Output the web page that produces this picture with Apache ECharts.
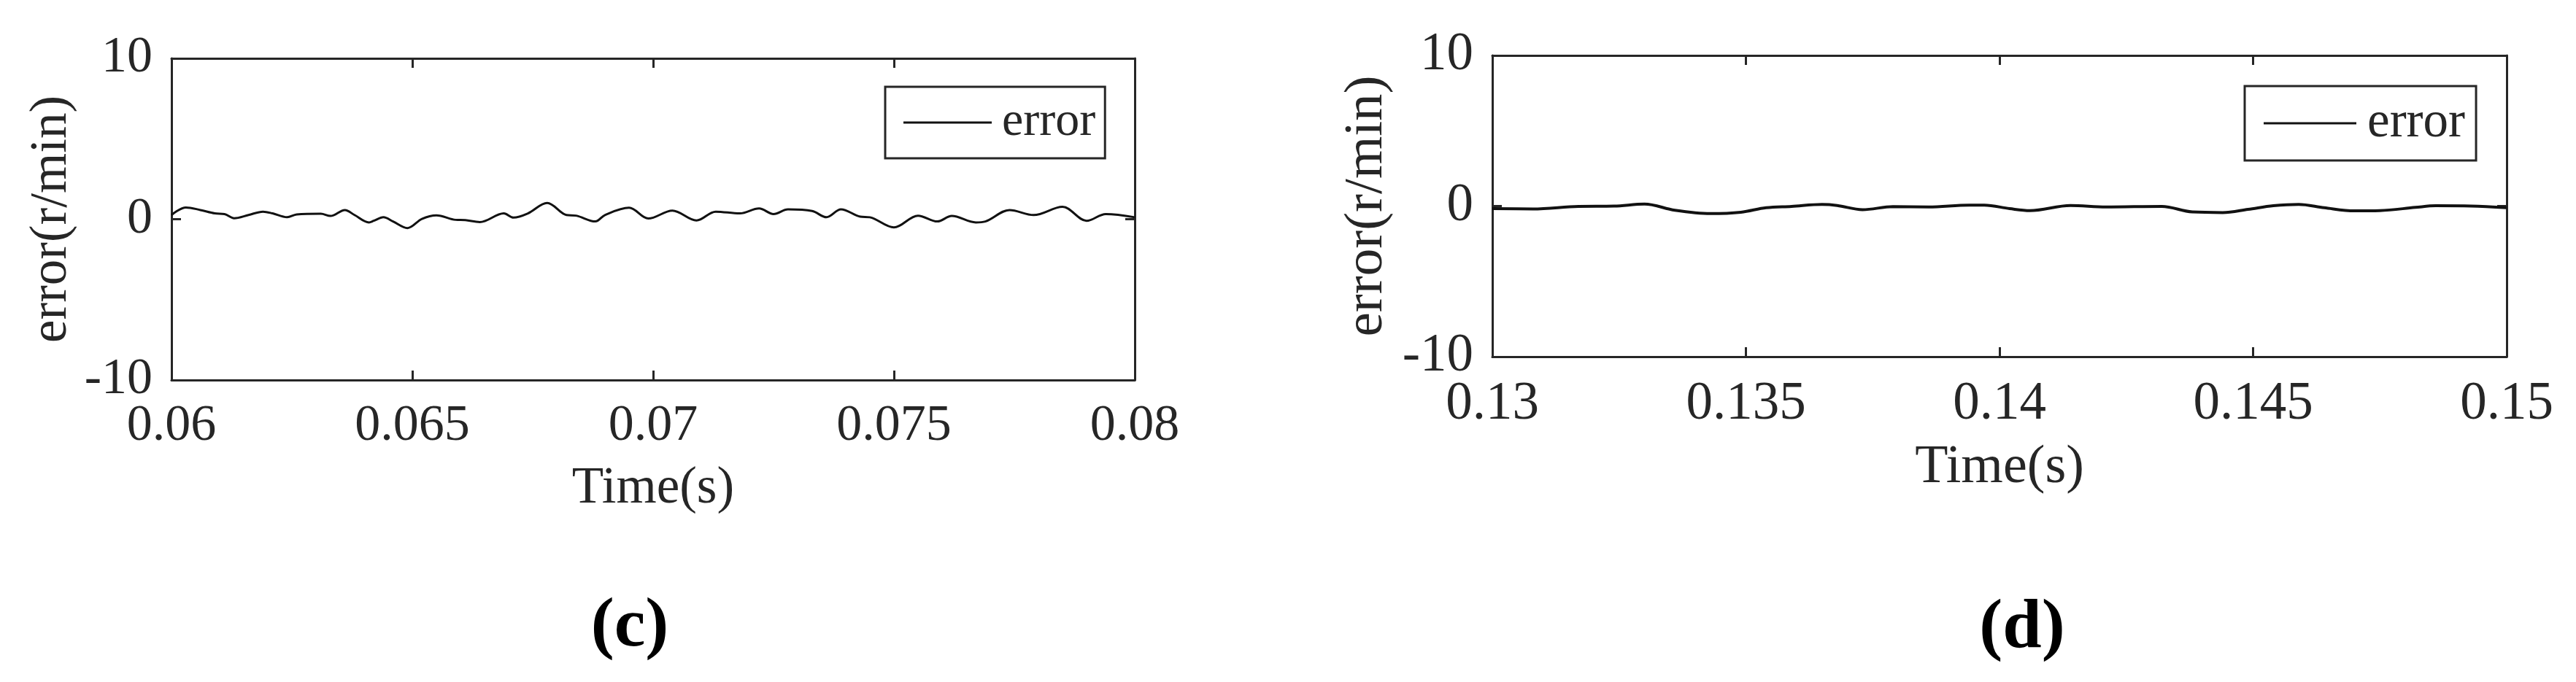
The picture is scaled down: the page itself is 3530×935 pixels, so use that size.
<!DOCTYPE html>
<html>
<head>
<meta charset="utf-8">
<script src="https://cdn.jsdelivr.net/npm/echarts@6/dist/echarts.min.js"></script>
<style>html,body{margin:0;padding:0;background:#fff}#c{width:3530px;height:935px}</style>
</head>
<body>
<div id="c"></div>
<script>
// Panel (c)
const cTime = [0.0600,0.0603,0.0606,0.0609,0.0611,0.0613,0.0616,0.0619,0.0621,0.0624,0.0626,0.0631,0.0633,0.0636,0.0638,0.0641,0.0642,0.0644,0.0646,0.0649,0.0652,0.0655,0.0659,0.0661,0.0664,0.0669,0.0671,0.0674,0.0678,0.0682,0.0684,0.0688,0.0690,0.0695,0.0699,0.0704,0.0709,0.0713,0.0718,0.0722,0.0725,0.0728,0.0733,0.0736,0.0739,0.0743,0.0745,0.0750,0.0755,0.0759,0.0762,0.0767,0.0769,0.0774,0.0779,0.0785,0.0790,0.0794,0.0800];
const cError = [0.26,0.73,0.57,0.36,0.32,0.06,0.26,0.47,0.36,0.12,0.30,0.34,0.20,0.57,0.26,-0.20,-0.10,0.12,-0.14,-0.55,0.02,0.24,-0.04,-0.06,-0.18,0.36,0.10,0.36,1.01,0.26,0.22,-0.14,0.26,0.71,0.04,0.53,-0.08,0.47,0.36,0.67,0.32,0.61,0.51,0.12,0.61,0.16,0.12,-0.51,0.22,-0.14,0.20,-0.20,-0.14,0.57,0.26,0.77,-0.10,0.32,0.12];
// Panel (d)
const dTime = [0.1300,0.1308,0.1317,0.1324,0.1330,0.1336,0.1343,0.1349,0.1354,0.1359,0.1365,0.1368,0.1373,0.1379,0.1386,0.1394,0.1397,0.1402,0.1406,0.1414,0.1421,0.1432,0.1438,0.1444,0.1449,0.1454,0.1459,0.1464,0.1470,0.1475,0.1482,0.1486,0.1493,0.1500];
const dError = [-0.17,-0.19,-0.02,0.00,0.13,-0.28,-0.50,-0.41,-0.11,-0.02,0.11,0.04,-0.24,-0.04,-0.06,0.06,0.06,-0.17,-0.30,0.04,-0.06,-0.02,-0.39,-0.43,-0.22,0.02,0.11,-0.11,-0.32,-0.30,-0.09,0.02,0.00,-0.11];
const cXRange = [0.06, 0.08];
const dXRange = [0.13, 0.15];
const xInterval = 0.005;
const yRange = [-10, 10];
const yInterval = 10;
const seriesName = 'error';
const xName = 'Time(s)';
const yName = 'error(r/min)';
const captions = ['(c)', '(d)'];

const FONT = 'Liberation Serif';
const AX = '#262626';

function zip(a, b) { return a.map((t, i) => [t, b[i]]); }
const fmt = v => String(parseFloat(v.toFixed(4)));

function xAxes(gi, range, fs, nameFs, nameGap) {
  const base = {
    gridIndex: gi, type: 'value', min: range[0], max: range[1], interval: xInterval,
    axisLine: { show: true, onZero: false, lineStyle: { color: AX, width: 3 } },
    axisTick: { show: true, inside: true, length: 13, lineStyle: { color: AX, width: 3 } },
    splitLine: { show: false }
  };
  return [
    Object.assign({}, base, {
      position: 'bottom',
      axisLabel: { show: true, color: AX, fontFamily: FONT, fontSize: fs, margin: 29, formatter: fmt },
      name: xName, nameLocation: 'middle', nameGap: nameGap,
      nameTextStyle: { color: AX, fontFamily: FONT, fontSize: nameFs }
    }),
    Object.assign({}, base, { position: 'top', axisLabel: { show: false } })
  ];
}
function yAxes(gi, fs, nameFs, nameGap) {
  const base = {
    gridIndex: gi, type: 'value', min: yRange[0], max: yRange[1], interval: yInterval,
    axisLine: { show: true, onZero: false, lineStyle: { color: AX, width: 3 } },
    axisTick: { show: true, inside: true, length: 13, lineStyle: { color: AX, width: 3 } },
    splitLine: { show: false }
  };
  return [
    Object.assign({}, base, {
      position: 'left',
      axisLabel: { show: true, color: AX, fontFamily: FONT, fontSize: fs, margin: 26 },
      name: yName, nameLocation: 'middle', nameGap: nameGap, nameRotate: 90,
      nameTextStyle: { color: AX, fontFamily: FONT, fontSize: nameFs }
    }),
    Object.assign({}, base, { position: 'right', axisLabel: { show: false } })
  ];
}

const chart = echarts.init(document.getElementById('c'), null, { renderer: 'canvas' });
chart.setOption({
  backgroundColor: '#fff',
  animation: false,
  grid: [
    { left: 235, top: 80, width: 1320, height: 441 },
    { left: 2045, top: 76, width: 1390, height: 413 }
  ],
  xAxis: [].concat(xAxes(0, cXRange, 70, 71, 114), xAxes(1, dXRange, 73, 74, 116)),
  yAxis: [].concat(yAxes(0, 70, 71, 128), yAxes(1, 73, 75, 134)),
  legend: [
    {
      left: 1213, top: 119, data: [seriesName], orient: 'horizontal',
      icon: 'rect', itemWidth: 121, itemHeight: 3,
      padding: [14, 13, 14, 25],
      borderColor: AX, borderWidth: 3, backgroundColor: '#fff',
      textStyle: { color: AX, fontFamily: FONT, fontSize: 66, lineHeight: 70, padding: [0, 0, 0, 9] }
    },
    {
      left: 3076, top: 118, data: [seriesName], orient: 'horizontal',
      icon: 'rect', itemWidth: 127, itemHeight: 3,
      padding: [15, 15, 15, 26],
      borderColor: AX, borderWidth: 3, backgroundColor: '#fff',
      textStyle: { color: AX, fontFamily: FONT, fontSize: 69, lineHeight: 72, padding: [0, 0, 0, 10] }
    }
  ],
  series: [
    {
      name: seriesName, type: 'line', xAxisIndex: 0, yAxisIndex: 0,
      data: zip(cTime, cError), showSymbol: false, symbol: 'none', smooth: 0.35,
      lineStyle: { color: '#111', width: 3 }, itemStyle: { color: '#111' }
    },
    {
      name: seriesName, type: 'line', xAxisIndex: 2, yAxisIndex: 2,
      data: zip(dTime, dError), showSymbol: false, symbol: 'none', smooth: 0.35,
      lineStyle: { color: '#111', width: 4 }, itemStyle: { color: '#111' }
    }
  ],
  graphic: [
    { type: 'text', x: 863, y: 860, style: { text: captions[0], fontFamily: FONT, fontWeight: 'bold', fontSize: 96, fill: '#000', align: 'center', verticalAlign: 'middle' } },
    { type: 'text', x: 2771, y: 862, style: { text: captions[1], fontFamily: FONT, fontWeight: 'bold', fontSize: 96, fill: '#000', align: 'center', verticalAlign: 'middle' } }
  ]
});
</script>
</body>
</html>
